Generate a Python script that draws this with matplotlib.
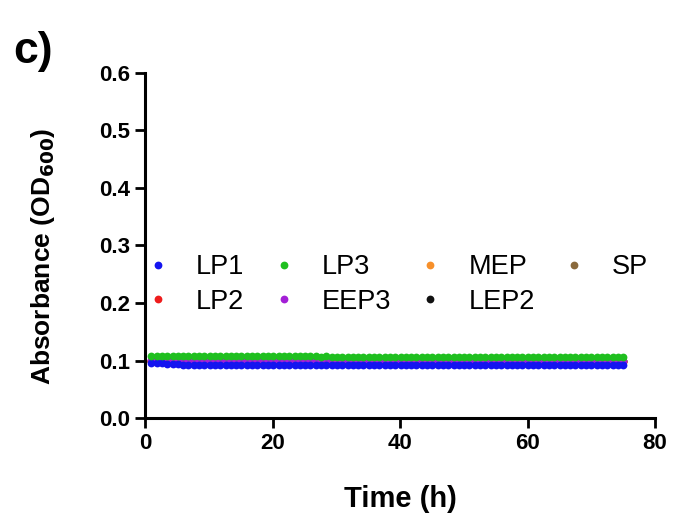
import matplotlib

matplotlib.use("Agg")
import matplotlib.pyplot as plt  # noqa: E402
import numpy as np  # noqa: E402

plt.rcParams["font.family"] = ["Liberation Sans", "DejaVu Sans"]

# sampling times (h): 90 evenly spaced readings from 1 h to 75 h
time_h = np.linspace(1.0, 75.0, 90)

lp1 = [
    0.096, 0.095, 0.095, 0.094, 0.094, 0.094, 0.093, 0.093, 0.093, 0.093,
    0.093, 0.093, 0.093, 0.093, 0.093, 0.093, 0.093, 0.093, 0.093, 0.093,
    0.093, 0.093, 0.093, 0.093, 0.093, 0.093, 0.093, 0.093, 0.093, 0.093,
    0.093, 0.093, 0.093, 0.093, 0.093, 0.092, 0.093, 0.092, 0.093, 0.092,
    0.092, 0.092, 0.092, 0.092, 0.092, 0.092, 0.092, 0.092, 0.092, 0.092,
    0.092, 0.092, 0.092, 0.092, 0.092, 0.092, 0.092, 0.092, 0.092, 0.092,
    0.092, 0.092, 0.092, 0.092, 0.092, 0.092, 0.092, 0.092, 0.092, 0.092,
    0.092, 0.092, 0.092, 0.092, 0.092, 0.092, 0.092, 0.092, 0.092, 0.092,
    0.092, 0.092, 0.092, 0.092, 0.092, 0.092, 0.092, 0.092, 0.092, 0.092,
]
lp2 = [
    0.099, 0.099, 0.099, 0.099, 0.099, 0.099, 0.099, 0.099, 0.099, 0.099,
    0.099, 0.099, 0.099, 0.099, 0.099, 0.099, 0.099, 0.099, 0.099, 0.099,
    0.099, 0.099, 0.099, 0.099, 0.099, 0.099, 0.099, 0.099, 0.099, 0.099,
    0.099, 0.099, 0.099, 0.099, 0.099, 0.099, 0.099, 0.099, 0.099, 0.099,
    0.098, 0.098, 0.098, 0.098, 0.098, 0.098, 0.098, 0.098, 0.098, 0.098,
    0.098, 0.098, 0.098, 0.098, 0.098, 0.098, 0.098, 0.098, 0.098, 0.098,
    0.098, 0.098, 0.098, 0.098, 0.098, 0.098, 0.098, 0.098, 0.098, 0.098,
    0.098, 0.098, 0.098, 0.098, 0.098, 0.098, 0.098, 0.098, 0.098, 0.098,
    0.098, 0.098, 0.098, 0.098, 0.098, 0.098, 0.098, 0.098, 0.098, 0.098,
]
lp3 = [
    0.108, 0.108, 0.108, 0.108, 0.108, 0.108, 0.108, 0.108, 0.108, 0.108,
    0.108, 0.108, 0.108, 0.108, 0.108, 0.108, 0.108, 0.108, 0.108, 0.108,
    0.108, 0.108, 0.108, 0.108, 0.108, 0.108, 0.108, 0.108, 0.108, 0.108,
    0.108, 0.108, 0.107, 0.108, 0.107, 0.107, 0.107, 0.107, 0.107, 0.107,
    0.107, 0.107, 0.107, 0.107, 0.107, 0.107, 0.107, 0.107, 0.107, 0.107,
    0.107, 0.107, 0.107, 0.107, 0.107, 0.107, 0.107, 0.107, 0.107, 0.107,
    0.107, 0.107, 0.107, 0.106, 0.107, 0.106, 0.106, 0.106, 0.106, 0.106,
    0.106, 0.106, 0.106, 0.106, 0.106, 0.106, 0.106, 0.106, 0.106, 0.106,
    0.106, 0.106, 0.106, 0.106, 0.106, 0.106, 0.106, 0.106, 0.106, 0.106,
]
eep3 = [
    0.101, 0.101, 0.101, 0.101, 0.101, 0.100, 0.100, 0.100, 0.100, 0.100,
    0.100, 0.100, 0.100, 0.100, 0.100, 0.100, 0.100, 0.100, 0.100, 0.100,
    0.100, 0.100, 0.100, 0.100, 0.100, 0.100, 0.100, 0.100, 0.100, 0.100,
    0.100, 0.100, 0.100, 0.100, 0.100, 0.100, 0.100, 0.100, 0.100, 0.100,
    0.100, 0.100, 0.100, 0.100, 0.100, 0.100, 0.100, 0.100, 0.100, 0.100,
    0.100, 0.100, 0.099, 0.100, 0.099, 0.099, 0.099, 0.099, 0.099, 0.099,
    0.099, 0.099, 0.099, 0.099, 0.099, 0.099, 0.099, 0.099, 0.099, 0.099,
    0.099, 0.099, 0.099, 0.099, 0.099, 0.099, 0.099, 0.099, 0.099, 0.099,
    0.099, 0.099, 0.099, 0.099, 0.099, 0.099, 0.099, 0.099, 0.099, 0.099,
]
# MEP, LEP2 and SP sit under the other traces, around 0.100
mep = [0.100] * 90
lep2 = [0.100] * 90
sp = [0.100] * 90

# (label, values, colour, zorder)
series = [
    ("LP1", lp1, "#1414f0", 6),
    ("LP2", lp2, "#ee1c1c", 4),
    ("LP3", lp3, "#1fbf1f", 7),
    ("EEP3", eep3, "#a31fd6", 5),
    ("MEP", mep, "#f7902a", 3),
    ("LEP2", lep2, "#111111", 2),
    ("SP", sp, "#8a6a3c", 1),
]

fig = plt.figure(figsize=(6.76, 5.2), dpi=100)
ax = fig.add_axes([0.2145, 0.196, 0.7545, 0.664])

for label, values, color, z in series:
    ax.plot(time_h, values, linestyle="none", marker="o", markersize=5.6,
            markeredgewidth=0, color=color, label=label, zorder=z)

ax.set_xlim(0, 80)
ax.set_ylim(0, 0.6)
ax.set_xticks([0, 20, 40, 60, 80])
ax.set_yticks(np.arange(0, 0.61, 0.1))
ax.set_yticklabels([f"{v:.1f}" for v in np.arange(0, 0.61, 0.1)])

for side in ("top", "right"):
    ax.spines[side].set_visible(False)
for side in ("left", "bottom"):
    ax.spines[side].set_linewidth(2.2)
ax.tick_params(direction="out", length=7, width=2.0, labelsize=16, pad=4)
for lab in ax.get_xticklabels() + ax.get_yticklabels():
    lab.set_fontweight("bold")

ax.set_xlabel("Time (h)", fontsize=21, fontweight="bold", labelpad=22)
ax.set_ylabel("Absorbance (OD$_{\\mathbf{600}}$)", fontsize=19, fontweight="bold")
ax.yaxis.set_label_coords(-0.172, 0.467)

leg = ax.legend(ncol=4, loc="center left", bbox_to_anchor=(-0.038, 0.387), frameon=False,
                fontsize=19.5, markerscale=1.0, handlelength=0.6, handletextpad=1.1,
                columnspacing=1.15, labelspacing=0.3)

fig.text(0.02, 0.90, "c)", fontsize=32, fontweight="bold", va="center", ha="left")

fig.savefig("out.png")
